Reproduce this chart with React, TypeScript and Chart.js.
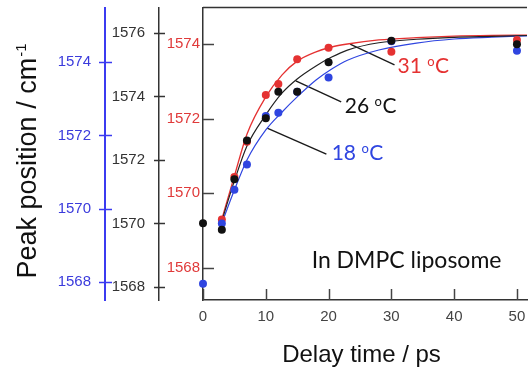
import React, { useEffect, useRef } from 'react';
import { Chart, registerables } from 'chart.js';

Chart.register(...registerables);

// ---- tick labels ----
const xTickValues = [0, 10, 20, 30, 40, 50];
const blueTickValues = [1568, 1570, 1572, 1574];
const blackTickValues = [1568, 1570, 1572, 1574, 1576];
const redTickValues = [1568, 1570, 1572, 1574];

// ---- measured points (delay time in ps, peak position in cm-1) ----
const redTime = [3, 5, 7, 10, 12, 15, 20, 30, 50];
const redPeak = [1569.29, 1570.43, 1571.38, 1572.63, 1572.93, 1573.59, 1573.9, 1573.79, 1574.11];

const blackTime = [0, 3, 5, 7, 10, 12, 15, 20, 30, 50];
const blackPeak = [1570.01, 1569.8, 1571.39, 1572.61, 1573.31, 1574.15, 1574.15, 1575.08, 1575.75, 1575.64];

const blueTime = [0, 3, 5, 7, 10, 12, 15, 20, 30, 50];
const bluePeak = [1567.95, 1569.6, 1570.52, 1571.21, 1572.53, 1572.62, 1573.19, 1573.58, 1574.57, 1574.31];

// ---- fitted curves ----
const fitTime = [3, 5, 7, 10, 12.6, 15, 18, 20.5, 23, 28, 34, 40, 46, 52];
const redFit = [1569.3, 1570.46, 1571.58, 1572.58, 1573.17, 1573.54, 1573.79, 1573.92, 1574.0, 1574.11, 1574.17, 1574.21, 1574.23, 1574.24];
const blackFit = [1570.08, 1571.34, 1572.44, 1573.42, 1574.11, 1574.55, 1574.96, 1575.24, 1575.46, 1575.69, 1575.8, 1575.86, 1575.89, 1575.92];
const blueFit = [1569.61, 1570.51, 1571.33, 1572.15, 1572.64, 1573.05, 1573.51, 1573.81, 1574.05, 1574.33, 1574.52, 1574.63, 1574.68, 1574.72];

const RED = '#e53232';
const BLACK = '#111111';
const BLUE = '#2f45e0';
const BLUE_AXIS = '#3b3bf0';
const AXIS = '#333333';

const pts = (xs: number[], ys: number[]) => xs.map((x, i) => ({ x, y: ys[i] }));

// annotations: [x(ps), y(value on axis)], axis id
const tempLabels = [
  { text: '31', axis: 'yRed', color: RED, at: [30.97, 1573.21], from: [23.43, 1574.0], to: [30.5, 1573.44] },
  { text: '26', axis: 'yBlack', color: '#111', at: [22.59, 1573.47], from: [14.78, 1574.49], to: [22.01, 1573.83] },
  { text: '18', axis: 'yBlue', color: BLUE, at: [20.49, 1571.33], from: [10.22, 1572.2], to: [19.65, 1571.49] },
];
const sampleLabel = { text: 'In DMPC liposome', axis: 'yRed', at: [17.3, 1567.99] };

const decor = {
  id: 'decor',
  beforeDatasetsDraw(chart: any) {
    const ctx = chart.ctx as CanvasRenderingContext2D;
    const sx = chart.scales.x;
    ctx.save();
    ctx.strokeStyle = '#1a1a1a';
    ctx.lineWidth = 1.4;
    for (const l of tempLabels) {
      const sy = chart.scales[l.axis];
      ctx.beginPath();
      ctx.moveTo(sx.getPixelForValue(l.from[0]), sy.getPixelForValue(l.from[1]));
      ctx.lineTo(sx.getPixelForValue(l.to[0]), sy.getPixelForValue(l.to[1]));
      ctx.stroke();
    }
    ctx.restore();
  },
  afterDraw(chart: any) {
    const ctx = chart.ctx as CanvasRenderingContext2D;
    const ca = chart.chartArea;
    const sx = chart.scales.x;
    const sB = chart.scales.yBlue;
    const sK = chart.scales.yBlack;
    const sR = chart.scales.yRed;
    ctx.save();
    // top frame line
    ctx.strokeStyle = AXIS;
    ctx.lineWidth = 1.5;
    ctx.beginPath();
    ctx.moveTo(ca.left, ca.top);
    ctx.lineTo(ca.right, ca.top);
    ctx.stroke();

    // tick marks
    const vt = (scale: any, vals: number[], x0: number, x1: number, color: string, w: number) => {
      ctx.strokeStyle = color;
      ctx.lineWidth = w;
      for (const v of vals) {
        const y = Math.round(scale.getPixelForValue(v)) + 0.5;
        ctx.beginPath();
        ctx.moveTo(x0, y);
        ctx.lineTo(x1, y);
        ctx.stroke();
      }
    };
    vt(sB, blueTickValues, sB.right - 6, sB.right + 7, BLUE_AXIS, 1.5);
    vt(sK, blackTickValues, sK.right - 5, sK.right + 6, AXIS, 1.5);
    vt(sR, redTickValues, sR.right, sR.right + 11, '#444', 1.5);
    ctx.strokeStyle = '#444';
    ctx.lineWidth = 1.5;
    for (const v of xTickValues) {
      const x = Math.round(sx.getPixelForValue(v)) + 0.5;
      ctx.beginPath();
      ctx.moveTo(x, ca.bottom);
      ctx.lineTo(x, ca.bottom - 11);
      ctx.stroke();
    }

    // temperature labels
    for (const l of tempLabels) {
      const sy = chart.scales[l.axis];
      const x = sx.getPixelForValue(l.at[0]);
      const y = sy.getPixelForValue(l.at[1]);
      ctx.fillStyle = l.color;
      ctx.textAlign = 'left';
      ctx.textBaseline = 'alphabetic';
      ctx.font = '21px Lato';
      const t1 = l.text + ' ';
      ctx.fillText(t1, x, y);
      let cx = x + ctx.measureText(t1).width;
      ctx.font = '13px Lato';
      ctx.fillText('o', cx, y - 7);
      cx += ctx.measureText('o').width + 0.5;
      ctx.font = '21px Lato';
      ctx.fillText('C', cx, y);
    }
    // sample label
    {
      const sy = chart.scales[sampleLabel.axis];
      ctx.fillStyle = '#111';
      ctx.font = '23px Lato';
      ctx.textAlign = 'left';
      ctx.textBaseline = 'alphabetic';
      ctx.fillText(sampleLabel.text, sx.getPixelForValue(sampleLabel.at[0]), sy.getPixelForValue(sampleLabel.at[1]));
    }

    // x title
    ctx.fillStyle = '#111';
    ctx.font = '24px "Liberation Sans", Arial, sans-serif';
    ctx.textAlign = 'center';
    ctx.textBaseline = 'alphabetic';
    ctx.fillText('Delay time / ps', 361.5, 362);

    // y title (rotated) with superscript
    ctx.translate(36, 161.5);
    ctx.rotate(-Math.PI / 2);
    const main = 'Peak position / cm';
    const sup = '-1';
    ctx.font = '27px "Liberation Sans", Arial, sans-serif';
    const wMain = ctx.measureText(main).width;
    ctx.font = '15px "Liberation Sans", Arial, sans-serif';
    const wSup = ctx.measureText(sup).width;
    const start = -(wMain + wSup) / 2;
    ctx.textAlign = 'left';
    ctx.font = '27px "Liberation Sans", Arial, sans-serif';
    ctx.fillText(main, start, 0);
    ctx.font = '15px "Liberation Sans", Arial, sans-serif';
    ctx.fillText(sup, start + wMain + 1, -10);
    ctx.restore();
  },
};

const tickFont = { family: '"Liberation Sans", Arial, sans-serif', size: 15 };
const plain = (v: any) => String(v);

const yAxis = (ticksArr: number[], min: number, max: number, weight: number, width: number, labelColor: string, borderColor: string, borderWidth: number, padding: number) => ({
  type: 'linear' as const,
  position: 'left' as const,
  weight,
  min,
  max,
  afterBuildTicks: (s: any) => {
    s.ticks = ticksArr.map((v) => ({ value: v }));
  },
  afterFit: (s: any) => {
    s.width = width;
    s.paddingTop = 0;
    s.paddingBottom = 0;
  },
  grid: { display: true, drawOnChartArea: false, drawTicks: false },
  border: { display: true, color: borderColor, width: borderWidth },
  ticks: { color: labelColor, font: tickFont, padding, autoSkip: false, callback: plain },
});

export default function App() {
  const ref = useRef<HTMLCanvasElement>(null);
  useEffect(() => {
    const chart = new Chart(ref.current as HTMLCanvasElement, {
      type: 'scatter',
      data: {
        datasets: [
          { label: 'black', data: pts(blackTime, blackPeak), yAxisID: 'yBlack', backgroundColor: BLACK, pointRadius: 4, borderWidth: 0, order: 0, clip: false } as any,
          { label: 'blue', data: pts(blueTime, bluePeak), yAxisID: 'yBlue', backgroundColor: BLUE, pointRadius: 4, borderWidth: 0, order: 1, clip: false },
          { label: 'red', data: pts(redTime, redPeak), yAxisID: 'yRed', backgroundColor: RED, pointRadius: 4, borderWidth: 0, order: 2, clip: false },
          { label: 'black fit', data: pts(fitTime, blackFit), yAxisID: 'yBlack', showLine: true, borderColor: '#222', borderWidth: 1.2, pointRadius: 0, cubicInterpolationMode: 'monotone', order: 3 },
          { label: 'blue fit', data: pts(fitTime, blueFit), yAxisID: 'yBlue', showLine: true, borderColor: BLUE, borderWidth: 1.2, pointRadius: 0, cubicInterpolationMode: 'monotone', order: 4 },
          { label: 'red fit', data: pts(fitTime, redFit), yAxisID: 'yRed', showLine: true, borderColor: RED, borderWidth: 1.3, pointRadius: 0, cubicInterpolationMode: 'monotone', order: 5 },
        ],
      },
      options: {
        responsive: false,
        animation: false,
        devicePixelRatio: 1,
        layout: { padding: { top: 7.5, left: 0, right: 0, bottom: 0 } },
        plugins: { legend: { display: false }, tooltip: { enabled: false } },
        scales: {
          x: {
            type: 'linear',
            position: 'bottom',
            min: 0,
            max: 51.6,
            afterBuildTicks: (s: any) => {
              s.ticks = xTickValues.map((v) => ({ value: v }));
            },
            afterFit: (s: any) => {
              s.height = 74;
              s.paddingLeft = 0;
              s.paddingRight = 0;
            },
            grid: { display: true, drawOnChartArea: false, drawTicks: false },
            border: { display: true, color: AXIS, width: 1.5 },
            ticks: { color: '#444', font: tickFont, padding: 8, maxRotation: 0, autoSkip: false, callback: plain },
          },
          yBlue: yAxis(blueTickValues, 1567.51, 1575.49, 2, 105, '#3b3bdc', BLUE_AXIS, 2, 14),
          yBlack: yAxis(blackTickValues, 1567.59, 1576.8, 1, 54, '#333', AXIS, 1.5, 14),
          yRed: yAxis(redTickValues, 1567.13, 1574.98, 0, 44, '#e03a3a', AXIS, 1.5, 3),
        },
      },
      plugins: [decor],
    } as any);
    return () => chart.destroy();
  }, []);
  return (
    <div style={{ position: 'absolute', left: 0, top: 0, width: 531, height: 374, background: '#fff' }}>
      <canvas ref={ref} width={531} height={374} style={{ display: 'block' }} />
    </div>
  );
}
